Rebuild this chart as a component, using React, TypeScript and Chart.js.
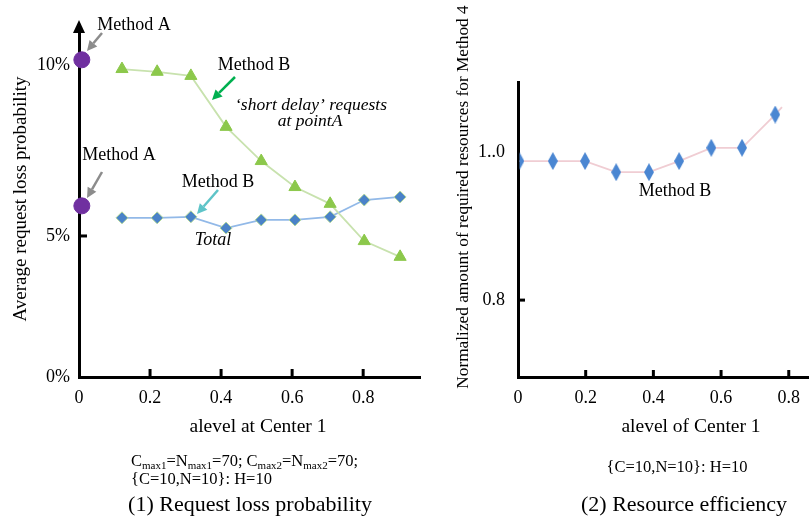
import React, { useEffect, useRef } from "react";
import { Chart, registerables } from "chart.js";

Chart.register(...registerables);

const FONT = '"Liberation Serif", "Times New Roman", serif';

// ---------- Panel (1): request loss probability ----------
const alevelLeft = [0.121, 0.22, 0.315, 0.414, 0.513, 0.608, 0.707, 0.803, 0.904];
const shortDelayLoss = [9.88, 9.8, 9.68, 8.19, 7.19, 6.43, 5.94, 4.85, 4.39];
const totalLoss = [5.53, 5.53, 5.56, 5.23, 5.47, 5.47, 5.56, 6.05, 6.14];
const methodAAlevel = [0.008, 0.008];
const methodALoss = [10.15, 5.88];
const leftXTickValues = [0, 0.2, 0.4, 0.6, 0.8];
const leftXTickLabels = ["0", "0.2", "0.4", "0.6", "0.8"];
const leftYBreak = 0.877; // broken axis: bottom of axis is labelled 0%
const leftYTickValues = [leftYBreak, 5, 10];
const leftYTickLabels = ["0%", "5%", "10%"];

// ---------- Panel (2): resource efficiency ----------
const alevelRight = [0.004, 0.103, 0.198, 0.29, 0.387, 0.476, 0.571, 0.662, 0.76, 0.78];
const resourceRatio = [0.988, 0.988, 0.988, 0.973, 0.973, 0.988, 1.006, 1.006, 1.051, 1.061];
const rightXTickValues = [0, 0.2, 0.4, 0.6, 0.8];
const rightXTickLabels = ["0", "0.2", "0.4", "0.6", "0.8"];
const rightYTickValues = [0.8, 1.0];
const rightYTickLabels = ["0.8", "1..0"];

function txt(
  ctx: CanvasRenderingContext2D,
  s: string,
  x: number,
  y: number,
  size: number,
  italic = false,
  align: CanvasTextAlign = "center"
) {
  ctx.save();
  ctx.font = `${italic ? "italic " : ""}${size}px ${FONT}`;
  ctx.fillStyle = "#000";
  ctx.textAlign = align;
  ctx.textBaseline = "middle";
  ctx.fillText(s, x, y);
  ctx.restore();
}

function arrow(ctx: CanvasRenderingContext2D, x1: number, y1: number, x2: number, y2: number, color: string) {
  const a = Math.atan2(y2 - y1, x2 - x1);
  const head = 10;
  const hw = 5;
  const bx = x2 - head * Math.cos(a);
  const by = y2 - head * Math.sin(a);
  ctx.save();
  ctx.strokeStyle = color;
  ctx.fillStyle = color;
  ctx.lineWidth = 2.5;
  ctx.beginPath();
  ctx.moveTo(x1, y1);
  ctx.lineTo(bx, by);
  ctx.stroke();
  ctx.beginPath();
  ctx.moveTo(x2, y2);
  ctx.lineTo(bx + hw * Math.sin(a), by - hw * Math.cos(a));
  ctx.lineTo(bx - hw * Math.sin(a), by + hw * Math.cos(a));
  ctx.closePath();
  ctx.fill();
  ctx.restore();
}

function tickMarks(ctx: CanvasRenderingContext2D, chart: any, xs: number[], ys: number[], len: number) {
  const { left, bottom } = chart.chartArea;
  ctx.save();
  ctx.strokeStyle = "#000";
  ctx.lineWidth = 3;
  xs.forEach((v) => {
    const x = chart.scales.x.getPixelForValue(v);
    ctx.beginPath();
    ctx.moveTo(x, bottom);
    ctx.lineTo(x, bottom - len);
    ctx.stroke();
  });
  ys.forEach((v) => {
    const y = chart.scales.y.getPixelForValue(v);
    ctx.beginPath();
    ctx.moveTo(left, y);
    ctx.lineTo(left + len, y);
    ctx.stroke();
  });
  ctx.restore();
}

function subscriptLine(ctx: CanvasRenderingContext2D, segs: [string, boolean][], x: number, baseline: number) {
  ctx.save();
  ctx.fillStyle = "#000";
  ctx.textAlign = "left";
  ctx.textBaseline = "alphabetic";
  let cx = x;
  segs.forEach(([s, sub]) => {
    ctx.font = `${sub ? 11 : 16.5}px ${FONT}`;
    ctx.fillText(s, cx, baseline + (sub ? 3 : 0));
    cx += ctx.measureText(s).width;
  });
  ctx.restore();
}

const leftDecor = {
  id: "leftDecor",
  afterDraw(chart: any) {
    const ctx: CanvasRenderingContext2D = chart.ctx;
    const { left } = chart.chartArea;
    // arrow head on y axis
    ctx.save();
    ctx.fillStyle = "#000";
    ctx.beginPath();
    ctx.moveTo(left, 20);
    ctx.lineTo(left - 6, 33);
    ctx.lineTo(left + 6, 33);
    ctx.closePath();
    ctx.fill();
    ctx.restore();
    tickMarks(ctx, chart, [0.2, 0.4, 0.6, 0.8], [5], 8);

    // annotations
    txt(ctx, "Method A", 134, 25, 18);
    arrow(ctx, 102, 33, 87, 51, "#8c8c8c");
    txt(ctx, "Method B", 254, 65, 18);
    arrow(ctx, 235, 77, 212, 100, "#00b050");
    txt(ctx, "\u2018short delay\u2019 requests", 311, 105, 17.5, true);
    txt(ctx, "at pointA", 310, 121, 17.5, true);
    txt(ctx, "Method A", 119, 155, 18);
    arrow(ctx, 102, 172, 87, 198, "#8c8c8c");
    txt(ctx, "Method B", 218, 182, 18);
    arrow(ctx, 218, 190, 197, 214, "#5ec4c8");
    txt(ctx, "Total", 213, 240, 18, true);

    // axis titles and captions
    ctx.save();
    ctx.translate(21, 199);
    ctx.rotate(-Math.PI / 2);
    txt(ctx, "Average request loss probability", 0, 0, 19);
    ctx.restore();
    txt(ctx, "alevel at Center 1", 258, 427, 19.5);

    subscriptLine(
      ctx,
      [
        ["C", false],
        ["max1", true],
        ["=N", false],
        ["max1", true],
        ["=70; C", false],
        ["max2", true],
        ["=N", false],
        ["max2", true],
        ["=70;", false],
      ],
      131,
      466
    );
    subscriptLine(ctx, [["{C=10,N=10}: H=10", false]], 131, 484);
    txt(ctx, "(1) Request loss probability", 250, 505, 22);
  },
};

const RIGHT_OFFSET = 430;
const rightDecor = {
  id: "rightDecor",
  afterDraw(chart: any) {
    const ctx: CanvasRenderingContext2D = chart.ctx;
    tickMarks(ctx, chart, [0.2, 0.4, 0.6, 0.8], [0.8], 7);
    const o = RIGHT_OFFSET;
    txt(ctx, "Method B", 675 - o, 191, 18);
    ctx.save();
    ctx.translate(463 - o, 197);
    ctx.rotate(-Math.PI / 2);
    txt(ctx, "Normalized amount of required resources for Method 4", 0, 0, 17.3);
    ctx.restore();
    txt(ctx, "alevel of Center 1", 691 - o, 427, 19.5);
    txt(ctx, "{C=10,N=10}: H=10", 677 - o, 468, 16.5);
    txt(ctx, "(2) Resource efficiency", 684 - o, 505, 22);
  },
};

function makeDiamond(): HTMLCanvasElement {
  const c = document.createElement("canvas");
  c.width = 10;
  c.height = 18;
  const g = c.getContext("2d")!;
  g.fillStyle = "#4a86d2";
  g.beginPath();
  g.moveTo(5, 0);
  g.lineTo(10, 9);
  g.lineTo(5, 18);
  g.lineTo(0, 9);
  g.closePath();
  g.fill();
  return c;
}

const tickFont = { family: FONT, size: 18 };

export default function App() {
  const leftRef = useRef<HTMLCanvasElement>(null);
  const rightRef = useRef<HTMLCanvasElement>(null);

  useEffect(() => {
    const left = new Chart(leftRef.current!, {
      type: "line",
      data: {
        datasets: [
          {
            label: "short delay requests (Method B)",
            data: alevelLeft.map((x, i) => ({ x, y: shortDelayLoss[i] })),
            borderColor: "#c8e2ae",
            borderWidth: 1.8,
            pointStyle: "triangle",
            pointRadius: 7,
            pointBackgroundColor: "#8cc84b",
            pointBorderColor: "#8cc84b",
            pointBorderWidth: 1,
          },
          {
            label: "Total (Method B)",
            data: alevelLeft.map((x, i) => ({ x, y: totalLoss[i] })),
            borderColor: "#92b9e8",
            borderWidth: 1.8,
            pointStyle: "rectRot",
            pointRadius: 6,
            pointBackgroundColor: "#4a82c8",
            pointBorderColor: "#b4d89a",
            pointBorderWidth: 1,
          },
          {
            label: "Method A",
            data: methodAAlevel.map((x, i) => ({ x, y: methodALoss[i] })),
            showLine: false,
            clip: false,
            pointStyle: "circle",
            pointRadius: 8,
            pointBackgroundColor: "#7030a0",
            pointBorderColor: "#7030a0",
          },
        ],
      },
      options: {
        responsive: false,
        maintainAspectRatio: false,
        animation: false,
        events: [],
        layout: { padding: { top: 28, right: 10, bottom: 0, left: 0 } },
        plugins: { legend: { display: false }, tooltip: { enabled: false } },
        scales: {
          x: {
            type: "linear",
            min: 0,
            max: 0.96,
            afterFit: (s: any) => {
              s.height = 139;
            },
            afterBuildTicks: (s: any) => {
              s.ticks = leftXTickValues.map((v) => ({ value: v }));
            },
            ticks: {
              font: tickFont,
              color: "#000",
              padding: 10,
              maxRotation: 0,
              callback: (_v: any, i: number) => leftXTickLabels[i],
            },
            grid: { display: false, drawTicks: false },
            border: { display: true, color: "#000", width: 3 },
          },
          y: {
            type: "linear",
            min: leftYBreak,
            max: 11.08,
            afterFit: (s: any) => {
              s.width = 79;
            },
            afterBuildTicks: (s: any) => {
              s.ticks = leftYTickValues.map((v) => ({ value: v }));
            },
            ticks: {
              font: tickFont,
              color: "#000",
              padding: 9,
              callback: (_v: any, i: number) => leftYTickLabels[i],
            },
            grid: { display: false, drawTicks: false },
            border: { display: true, color: "#000", width: 3 },
          },
        },
      },
      plugins: [leftDecor],
    } as any);

    const diamond = makeDiamond();
    const right = new Chart(rightRef.current!, {
      type: "line",
      data: {
        datasets: [
          {
            label: "Method B",
            data: alevelRight.map((x, i) => ({ x, y: resourceRatio[i] })),
            borderColor: "#f0cdd3",
            borderWidth: 1.8,
            pointStyle: diamond,
            pointRadius: (c: any) => (c.dataIndex < resourceRatio.length - 1 ? 8 : 0),
            clip: { left: -1.5, top: 0, right: 0, bottom: 0 },
          },
        ],
      },
      options: {
        responsive: false,
        maintainAspectRatio: false,
        animation: false,
        events: [],
        layout: { padding: { top: 82, right: 0, bottom: 0, left: 0 } },
        plugins: { legend: { display: false }, tooltip: { enabled: false } },
        scales: {
          x: {
            type: "linear",
            min: 0,
            max: 0.952,
            afterFit: (s: any) => {
              s.height = 139;
            },
            afterBuildTicks: (s: any) => {
              s.ticks = rightXTickValues.map((v) => ({ value: v }));
            },
            ticks: {
              font: tickFont,
              color: "#000",
              padding: 10,
              maxRotation: 0,
              callback: (_v: any, i: number) => rightXTickLabels[i],
            },
            grid: { display: false, drawTicks: false },
            border: { display: true, color: "#000", width: 3 },
          },
          y: {
            type: "linear",
            min: 0.696,
            max: 1.095,
            afterFit: (s: any) => {
              s.width = 88;
            },
            afterBuildTicks: (s: any) => {
              s.ticks = rightYTickValues.map((v) => ({ value: v }));
            },
            ticks: {
              font: tickFont,
              color: "#000",
              padding: 13,
              callback: (_v: any, i: number) => rightYTickLabels[i],
            },
            grid: { display: false, drawTicks: false },
            border: { display: true, color: "#000", width: 3 },
          },
        },
      },
      plugins: [rightDecor],
    } as any);

    return () => {
      left.destroy();
      right.destroy();
    };
  }, []);

  return (
    <div
      style={{
        position: "absolute",
        left: 0,
        top: 0,
        width: 809,
        height: 516,
        overflow: "hidden",
        background: "#fff",
      }}
    >
      <canvas
        ref={leftRef}
        width={430}
        height={516}
        style={{ position: "absolute", left: 0, top: 0, width: 430, height: 516 }}
      />
      <canvas
        ref={rightRef}
        width={420}
        height={516}
        style={{ position: "absolute", left: 430, top: 0, width: 420, height: 516 }}
      />
    </div>
  );
}
